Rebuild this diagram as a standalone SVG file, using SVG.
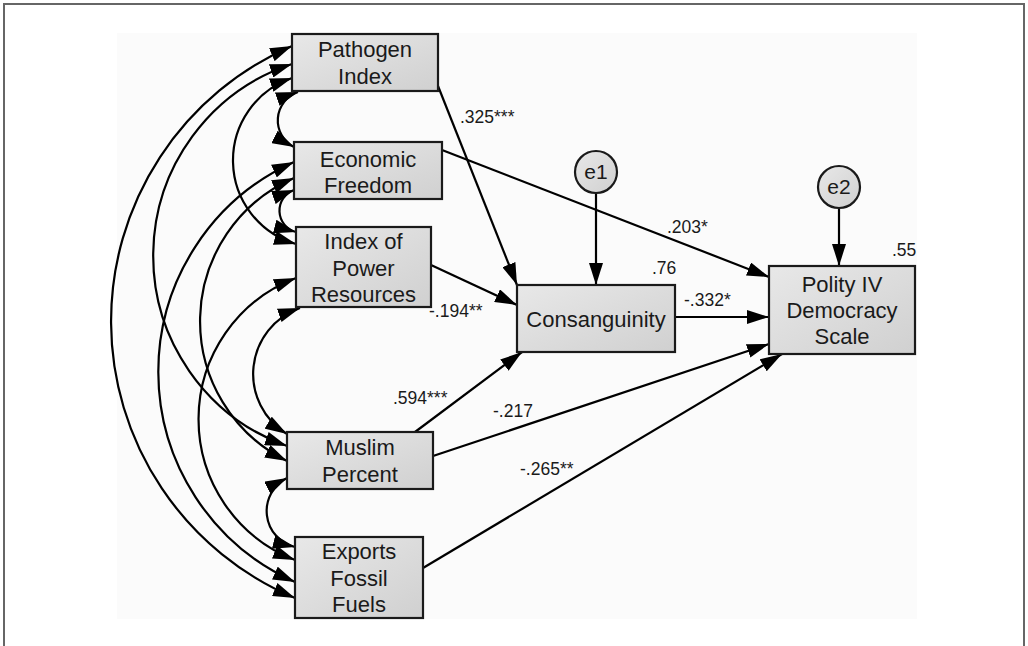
<svg xmlns="http://www.w3.org/2000/svg" width="1028" height="646" viewBox="0 0 1028 646">
<style>
.box{fill:url(#g);stroke:#1a1a1a;stroke-width:2.2}
.nt{font-family:"Liberation Sans",Arial,sans-serif;font-size:22px;fill:#1a1a1a;text-anchor:middle}
.lb{font-family:"Liberation Sans",Arial,sans-serif;font-size:17.5px;fill:#1a1a1a}
.ar{fill:none;stroke:#000;stroke-width:2.2;marker-end:url(#ah)}
.cv{fill:none;stroke:#000;stroke-width:2.2;marker-start:url(#ah);marker-end:url(#ah)}
</style>
<defs>
<linearGradient id="g" x1="0" y1="0" x2="1" y2="1">
<stop offset="0" stop-color="#e8e8e8"/>
<stop offset="1" stop-color="#d0d0d0"/>
</linearGradient>
<marker id="ah" markerUnits="userSpaceOnUse" markerWidth="24" markerHeight="14" refX="22" refY="7" orient="auto-start-reverse">
<path d="M0,0 L22,7 L0,14 z" fill="#000"/>
</marker>
</defs>
<rect width="1028" height="646" fill="#fff"/>
<rect x="117" y="33" width="800" height="586" fill="#fbfbfb"/>
<path d="M4,646 V4 H1024 V646" fill="none" stroke="#666" stroke-width="2"/>

<g id="connectors">
<path class="cv" d="M298 92 A30 30 0 0 0 294 147"/>
<path class="cv" d="M294 190 A22 22 0 0 0 296 232"/>
<path class="cv" d="M300 308 A70 70 0 0 0 287 434"/>
<path class="cv" d="M287 478 A37 37 0 0 0 295 547"/>
<path class="cv" d="M292 78 A87 87 0 0 0 296 244"/>
<path class="cv" d="M292 64 A202 202 0 0 0 287 446"/>
<path class="cv" d="M292 46 A300 300 0 0 0 295 598"/>
<path class="cv" d="M294 178 A156 156 0 0 0 287 461"/>
<path class="cv" d="M294 162 A230 230 0 0 0 295 582"/>
<path class="cv" d="M296 278 A151 151 0 0 0 295 560"/>
<path class="ar" d="M438 86 L517 285"/>
<path class="ar" d="M442 150 L769 277"/>
<path class="ar" d="M431 265 L517 305"/>
<path class="ar" d="M596 194 L596 285"/>
<path class="ar" d="M839 209 L839 266"/>
<path class="ar" d="M675 317 L769 317"/>
<path class="ar" d="M415 432 L522 352"/>
<path class="ar" d="M433 456 L769 344"/>
<path class="ar" d="M423 568 L782 354"/>
</g>

<g id="labels">
<text class="lb" x="460" y="123">.325***</text>
<text class="lb" x="667" y="233">.203*</text>
<text class="lb" x="429" y="317">-.194**</text>
<text class="lb" x="652" y="274">.76</text>
<text class="lb" x="684" y="306">-.332*</text>
<text class="lb" x="892" y="256">.55</text>
<text class="lb" x="393" y="404">.594***</text>
<text class="lb" x="493" y="417">-.217</text>
<text class="lb" x="520" y="475">-.265**</text>
</g>

<g id="pathogen">
<rect class="box" x="292" y="34" width="146" height="57"/>
<text class="nt" x="365" y="57">Pathogen</text>
<text class="nt" x="365" y="84">Index</text>
</g>
<g id="economic">
<rect class="box" x="294" y="142" width="148" height="57"/>
<text class="nt" x="368" y="167">Economic</text>
<text class="nt" x="368" y="193">Freedom</text>
</g>
<g id="power">
<rect class="box" x="296" y="227" width="135" height="80"/>
<text class="nt" x="363.5" y="249">Index of</text>
<text class="nt" x="363.5" y="276">Power</text>
<text class="nt" x="363.5" y="302">Resources</text>
</g>
<g id="muslim">
<rect class="box" x="287" y="432" width="146" height="57"/>
<text class="nt" x="360" y="455">Muslim</text>
<text class="nt" x="360" y="482">Percent</text>
</g>
<g id="exports">
<rect class="box" x="295" y="537" width="128" height="81"/>
<text class="nt" x="359" y="559">Exports</text>
<text class="nt" x="359" y="586">Fossil</text>
<text class="nt" x="359" y="612">Fuels</text>
</g>
<g id="consanguinity">
<rect class="box" x="517" y="285" width="158" height="67"/>
<text class="nt" x="596" y="327">Consanguinity</text>
</g>
<g id="polity">
<rect class="box" x="769" y="266" width="146" height="88"/>
<text class="nt" x="842" y="292">Polity IV</text>
<text class="nt" x="842" y="318">Democracy</text>
<text class="nt" x="842" y="344">Scale</text>
</g>
<g id="e1">
<circle class="box" cx="596" cy="172" r="21"/>
<text class="nt" x="596" y="179" style="font-size:21px">e1</text>
</g>
<g id="e2">
<circle class="box" cx="839" cy="187" r="21"/>
<text class="nt" x="839" y="194" style="font-size:21px">e2</text>
</g>
</svg>
